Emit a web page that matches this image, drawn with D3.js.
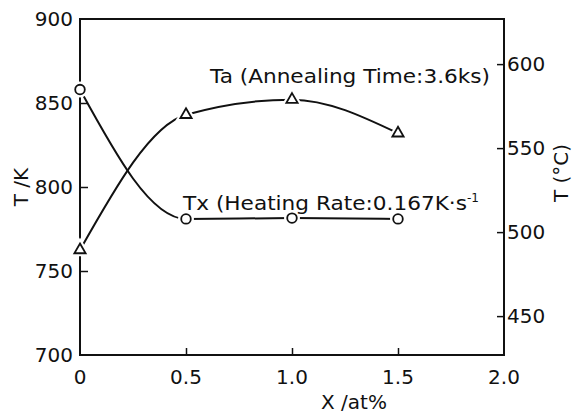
<!DOCTYPE html>
<html>
<head>
<meta charset="utf-8">
<script src="https://cdn.jsdelivr.net/npm/d3@7"></script>
<style>
  body { margin: 0; background: #fff; }
  text { font-family: "DejaVu Sans", sans-serif; fill: #111; }
</style>
</head>
<body>
<div id="chart"></div>
<script>
// data
const x_values = [0, 0.5, 1.0, 1.5];
const tx_values = [858, 781, 781.5, 781];   // circles, K
const ta_values = [762.5, 843, 852, 832];   // triangles, K
const x_ticks = [0, 0.5, 1.0, 1.5, 2.0];
const x_tick_labels = ['0', '0.5', '1.0', '1.5', '2.0'];
const k_ticks = [700, 750, 800, 850, 900];
const c_ticks = [450, 500, 550, 600];

const chart_width = 584;
const chart_height = 413;
const pad_left = 80, pad_right = 504, pad_top = 19, pad_bottom = 355;

const svg = d3.select('#chart')
    .append('svg')
    .attr('width', chart_width)
    .attr('height', chart_height);

// scales
const x_scale = d3.scaleLinear().domain([0, 2]).range([pad_left, pad_right]);
const y_scale = d3.scaleLinear().domain([700, 900]).range([pad_bottom, pad_top]);
const c_scale = d3.scaleLinear().domain([700 - 273.15, 900 - 273.15]).range([pad_bottom, pad_top]);

// frame
svg.append('rect')
    .attr('x', pad_left).attr('y', pad_top)
    .attr('width', pad_right - pad_left).attr('height', pad_bottom - pad_top)
    .attr('fill', 'none').attr('stroke', '#111').attr('stroke-width', 2);

// left axis, ticks pointing inward
const y_axis = svg.append('g')
    .attr('transform', `translate(${pad_left},0)`)
    .call(d3.axisRight(y_scale).tickValues(k_ticks.slice(1, 4)).tickSize(8).tickFormat(''));
y_axis.select('.domain').remove();
y_axis.selectAll('line').attr('stroke', '#111').attr('stroke-width', 1.5);

svg.selectAll('.k-label')
    .data(k_ticks)
    .enter()
    .append('text')
    .attr('class', 'k-label')
    .attr('x', pad_left - 7)
    .attr('y', d => y_scale(d))
    .attr('dy', '0.36em')
    .attr('text-anchor', 'end')
    .attr('font-size', 20)
    .text(d => d);

// right axis (Celsius), ticks inward
const c_axis = svg.append('g')
    .attr('transform', `translate(${pad_right},0)`)
    .call(d3.axisLeft(c_scale).tickValues(c_ticks).tickSize(7).tickFormat(''));
c_axis.select('.domain').remove();
c_axis.selectAll('line').attr('stroke', '#111').attr('stroke-width', 1.5);

svg.selectAll('.c-label')
    .data(c_ticks)
    .enter()
    .append('text')
    .attr('class', 'c-label')
    .attr('x', pad_right + 3)
    .attr('y', d => c_scale(d))
    .attr('dy', '0.36em')
    .attr('font-size', 20)
    .text(d => d);

// bottom axis, ticks inward
const x_axis = svg.append('g')
    .attr('transform', `translate(0,${pad_bottom})`)
    .call(d3.axisTop(x_scale).tickValues(x_ticks.slice(1, 4)).tickSize(7).tickFormat(''));
x_axis.select('.domain').remove();
x_axis.selectAll('line').attr('stroke', '#111').attr('stroke-width', 1.5);

svg.selectAll('.x-label')
    .data(x_ticks)
    .enter()
    .append('text')
    .attr('class', 'x-label')
    .attr('x', d => x_scale(d))
    .attr('y', 384)
    .attr('text-anchor', 'middle')
    .attr('font-size', 20)
    .text((d, i) => x_tick_labels[i]);

// axis titles
svg.append('text')
    .attr('x', 354).attr('y', 409)
    .attr('text-anchor', 'middle')
    .attr('font-size', 20)
    .text('X /at%');

svg.append('text')
    .attr('transform', 'translate(28,187) rotate(-90)')
    .attr('text-anchor', 'middle')
    .attr('font-size', 20)
    .text('T /K');

svg.append('text')
    .attr('transform', 'translate(568,173) rotate(-90)')
    .attr('text-anchor', 'middle')
    .attr('font-size', 20)
    .text('T (°C)');

// curves
const line = d3.line()
    .x((d, i) => x_scale(x_values[i]))
    .y(d => y_scale(d))
    .curve(d3.curveMonotoneX);

[tx_values, ta_values].forEach(values => {
    svg.append('path')
        .attr('d', line(values))
        .attr('fill', 'none')
        .attr('stroke', '#111')
        .attr('stroke-width', 2);
});

// markers: white halo to leave a small gap in the line
svg.selectAll('.tx-halo')
    .data(tx_values)
    .enter()
    .append('circle')
    .attr('cx', (d, i) => x_scale(x_values[i]))
    .attr('cy', d => y_scale(d))
    .attr('r', 8)
    .attr('fill', '#fff');

svg.selectAll('.tx-mark')
    .data(tx_values)
    .enter()
    .append('circle')
    .attr('cx', (d, i) => x_scale(x_values[i]))
    .attr('cy', d => y_scale(d))
    .attr('r', 4.8)
    .attr('fill', '#fff')
    .attr('stroke', '#111')
    .attr('stroke-width', 1.8);

const tri = d3.symbol().type(d3.symbolTriangle);

svg.selectAll('.ta-halo')
    .data(ta_values)
    .enter()
    .append('path')
    .attr('d', tri.size(200)())
    .attr('transform', (d, i) => `translate(${x_scale(x_values[i])},${y_scale(d)})`)
    .attr('fill', '#fff');

svg.selectAll('.ta-mark')
    .data(ta_values)
    .enter()
    .append('path')
    .attr('d', tri.size(55)())
    .attr('transform', (d, i) => `translate(${x_scale(x_values[i])},${y_scale(d)})`)
    .attr('fill', '#fff')
    .attr('stroke', '#111')
    .attr('stroke-width', 1.8);

// annotations
svg.append('text')
    .attr('x', 210).attr('y', 83)
    .attr('font-size', 20)
    .attr('textLength', 280)
    .attr('lengthAdjust', 'spacingAndGlyphs')
    .text('Ta (Annealing Time:3.6ks)');

const tx_label = svg.append('text')
    .attr('x', 183).attr('y', 210)
    .attr('font-size', 20);
tx_label.append('tspan')
    .attr('textLength', 284)
    .attr('lengthAdjust', 'spacingAndGlyphs')
    .text('Tx (Heating Rate:0.167K·s');
tx_label.append('tspan')
    .attr('dy', -8)
    .attr('font-size', 12)
    .text('-1');
</script>
</body>
</html>
